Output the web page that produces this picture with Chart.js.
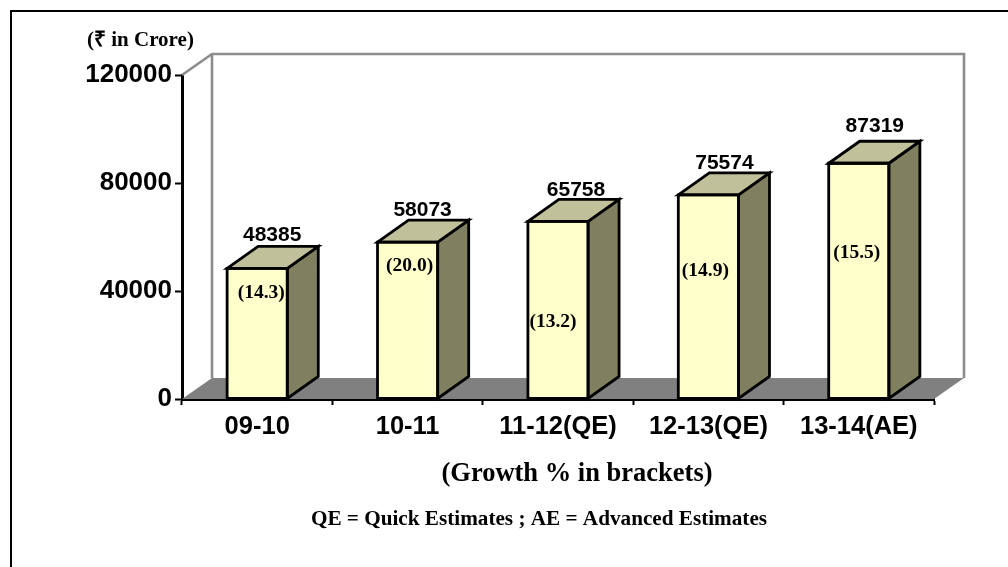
<!DOCTYPE html>
<html>
<head>
<meta charset="utf-8">
<style>
  html, body { margin: 0; padding: 0; background: #fff; }
  #wrap { width: 1008px; height: 567px; }
</style>
<script src="https://cdn.jsdelivr.net/npm/chart.js@4"></script>
</head>
<body>
<div id="wrap"><canvas id="gdpChart" width="1008" height="567"></canvas></div>
<script>
const years = ["09-10", "10-11", "11-12(QE)", "12-13(QE)", "13-14(AE)"];
const amounts = [48385, 58073, 65758, 75574, 87319];
const growth = ["(14.3)", "(20.0)", "(13.2)", "(14.9)", "(15.5)"];
// height of each growth label on the value axis
const growthAt = [39260, 49260, 28520, 47400, 54070];
const growthShift = [4, 2, -5, -3, -2];
const amountLift = [33, 32, 31, 32, 37];
const amountShift = [15, 15, 18, 16, 16];
const yTicks = [0, 40000, 80000, 120000];

const DEPTH_X = 31;
const DEPTH_Y = 22;
const SANS = '"Liberation Sans", Arial, sans-serif';
const SERIF = '"Liberation Serif", "Times New Roman", serif';

function poly(ctx, pts, fill, stroke, lw) {
  ctx.beginPath();
  pts.forEach((p, i) => (i ? ctx.lineTo(p[0], p[1]) : ctx.moveTo(p[0], p[1])));
  ctx.closePath();
  if (fill) {
    ctx.fillStyle = fill;
    ctx.fill();
  }
  if (stroke) {
    ctx.strokeStyle = stroke;
    ctx.lineWidth = lw;
    ctx.lineJoin = "miter";
    ctx.stroke();
  }
}

// back wall and floor behind the bars
const roomPlugin = {
  id: "room",
  beforeDatasetsDraw(chart) {
    const { ctx, chartArea: a } = chart;
    const wx = 30, wy = 21;
    ctx.save();
    poly(ctx, [[a.left, a.bottom], [a.right, a.bottom], [a.right + wx, a.bottom - wy], [a.left + wx, a.bottom - wy]], "#808080");
    ctx.strokeStyle = "#8c8c8c";
    ctx.lineWidth = 2.6;
    ctx.beginPath();
    ctx.moveTo(a.left, a.top);
    ctx.lineTo(a.left + wx, a.top - wy);
    ctx.lineTo(a.right + wx, a.top - wy);
    ctx.lineTo(a.right + wx, a.bottom - wy);
    ctx.moveTo(a.left + wx, a.top - wy);
    ctx.lineTo(a.left + wx, a.bottom - wy);
    ctx.stroke();
    ctx.restore();
  }
};

// side and top faces of the bars, value and growth labels
const boxPlugin = {
  id: "box",
  afterDatasetsDraw(chart) {
    const { ctx, scales } = chart;
    const bars = chart.getDatasetMeta(0).data;
    ctx.save();
    bars.forEach((bar, i) => {
      const l = bar.x - bar.width / 2;
      const r = bar.x + bar.width / 2;
      const t = bar.y;
      const b = bar.base;
      poly(ctx, [[r, t], [r + DEPTH_X, t - DEPTH_Y], [r + DEPTH_X, b - DEPTH_Y], [r, b]], "#808060", "#000", 2.8);
      poly(ctx, [[l, t], [l + DEPTH_X, t - DEPTH_Y], [r + DEPTH_X, t - DEPTH_Y], [r, t]], "#c0c09a", "#000", 2.8);
      poly(ctx, [[l, t], [r, t], [r, b], [l, b]], null, "#000", 2.8);

      ctx.fillStyle = "#000";
      ctx.textAlign = "center";
      ctx.textBaseline = "middle";
      ctx.font = "bold 21px " + SANS;
      ctx.fillText(amounts[i].toString(), bar.x + amountShift[i], t - amountLift[i]);
      ctx.font = "bold 19.5px " + SERIF;
      ctx.fillText(growth[i], bar.x + growthShift[i], scales.y.getPixelForValue(growthAt[i]));
    });
    ctx.restore();
  }
};

// top and left rules of the frame, and the free-standing captions
const notesPlugin = {
  id: "notes",
  afterDraw(chart) {
    const { ctx } = chart;
    ctx.save();
    ctx.strokeStyle = "#000";
    ctx.lineWidth = 2;
    ctx.beginPath();
    ctx.moveTo(11, 567);
    ctx.lineTo(11, 11);
    ctx.lineTo(1008, 11);
    ctx.stroke();
    ctx.fillStyle = "#000";
    ctx.textBaseline = "middle";
    ctx.textAlign = "left";
    ctx.font = "bold 21px " + SERIF;
    ctx.fillText("(₹ in Crore)", 87, 41);
    ctx.textAlign = "center";
    ctx.font = "bold 26.5px " + SERIF;
    ctx.fillText("(Growth % in brackets)", 577, 474);
    ctx.font = "bold 21.2px " + SERIF;
    ctx.fillText("QE = Quick Estimates ; AE = Advanced Estimates", 539, 520);
    ctx.restore();
  }
};

new Chart(document.getElementById("gdpChart"), {
  type: "bar",
  data: {
    labels: years,
    datasets: [{
      data: amounts,
      backgroundColor: "#ffffcc",
      categoryPercentage: 0.8,
      barPercentage: 0.5
    }]
  },
  plugins: [roomPlugin, boxPlugin, notesPlugin],
  options: {
    responsive: false,
    animation: false,
    layout: { padding: { top: 75, right: 74, left: 0, bottom: 0 } },
    plugins: { legend: { display: false }, tooltip: { enabled: false } },
    scales: {
      x: {
        afterFit: s => { s.height = 168; },
        grid: { offset: true, drawOnChartArea: false, tickLength: 6, tickColor: "#000", tickWidth: 2 },
        border: { color: "#000", width: 3 },
        ticks: { color: "#000", font: { family: SANS, size: 25.5, weight: "bold" }, padding: 7, maxRotation: 0 }
      },
      y: {
        min: 0,
        max: 120000,
        afterFit: s => { s.width = 182; },
        afterBuildTicks: s => { s.ticks = yTicks.map(v => ({ value: v })); },
        grid: { drawOnChartArea: false, tickLength: 7, tickColor: "#000", tickWidth: 2 },
        border: { color: "#000", width: 3 },
        ticks: { color: "#000", font: { family: SANS, size: 26, weight: "bold" }, padding: 3, callback: v => String(v) }
      }
    }
  }
});
</script>
</body>
</html>
